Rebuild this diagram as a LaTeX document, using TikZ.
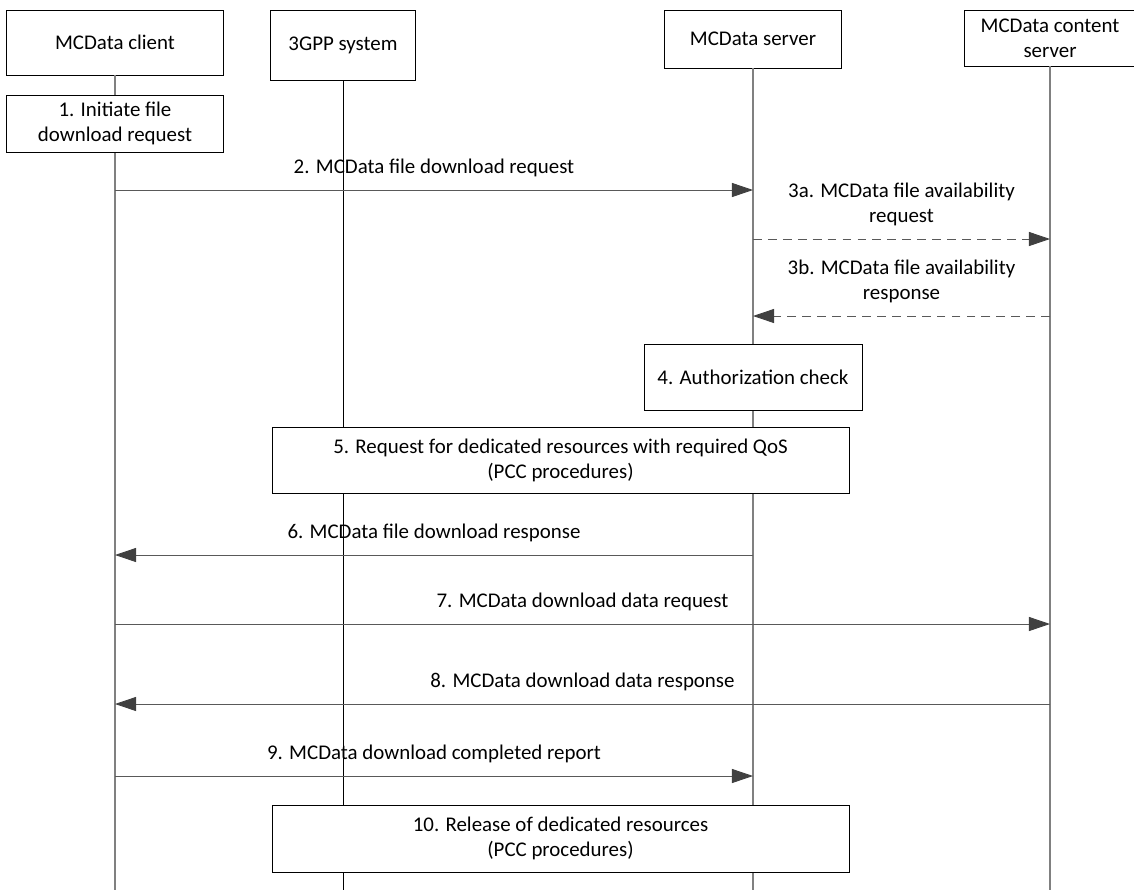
\documentclass[tikz,border=0pt]{standalone}
\usepackage{fontspec}
\setmainfont{Carlito}
\usetikzlibrary{arrows.meta,positioning}

\begin{document}
\begin{tikzpicture}[
    x=0.02cm, y=-0.02cm,
    font=\fontsize{11.9}{14.2}\selectfont,
    box/.style={rectangle, draw, fill=white, align=center, inner sep=1pt},
    life/.style={draw=black!50, line width=0.8pt},
    msg/.style={draw=black!65, line width=0.5pt, -{Triangle[length=12pt, width=8pt, color=black!75]}},
    reply/.style={msg, dash pattern=on 5pt off 3.5pt},
    lbl/.style={midway, above=7pt, inner sep=0pt, align=center}
]
\useasboundingbox (0,0) rectangle (1134,890);

% heads
\node[box, minimum width=4.34cm, minimum height=1.3cm] (client) at (115,42.5) {MCData client};
\node[box, minimum width=2.9cm, minimum height=1.4cm] (tgpp) at (343,45) {3GPP system};
\node[box, minimum width=3.54cm, minimum height=1.16cm] (server) at (753,39) {MCData server};
\node[box, minimum width=3.42cm, minimum height=1.12cm] (content) at (1050,38) {MCData content\\server};

\coordinate (clientEnd) at (115,890);
\coordinate (tgppEnd) at (343,890);
\coordinate (serverEnd) at (753,890);
\coordinate (contentEnd) at (1050,890);

% lifelines
\draw[life] (client) -- (clientEnd);
\draw[black, line width=0.5pt] (tgpp) -- (tgppEnd);
\draw[life] (server) -- (serverEnd);
\draw[life] (content) -- (contentEnd);

% steps
\node[box, minimum width=4.34cm, minimum height=1.14cm] (init) at (115,123.5) {1. Initiate file\\download request};
\node[box, minimum width=4.36cm, minimum height=1.32cm] (auth) at (753,377) {4. Authorization check};
\node[box, minimum width=11.54cm, minimum height=1.32cm] (qos) at (560.5,460) {5. Request for dedicated resources with required QoS\\(PCC procedures)};
\node[box, minimum width=11.54cm, minimum height=1.34cm] (release) at (560.5,838.5) {10. Release of dedicated resources\\(PCC procedures)};

% messages
\coordinate (c2) at (115,190);  \coordinate (s2) at (753,190);
\coordinate (s3a) at (753,239); \coordinate (m3a) at (1050,239);
\coordinate (m3b) at (1050,316); \coordinate (s3b) at (753,316);
\coordinate (s6) at (753,555);  \coordinate (c6) at (115,555);
\coordinate (c7) at (115,624);  \coordinate (m7) at (1050,624);
\coordinate (m8) at (1050,704); \coordinate (c8) at (115,704);
\coordinate (c9) at (115,776);  \coordinate (s9) at (753,776);

\draw[msg] (c2) -- node[lbl] {2. MCData file download request} (s2);
\draw[reply] (s3a) -- node[lbl] {3a. MCData file availability\\request} (m3a);
\draw[reply] (m3b) -- node[lbl] {3b. MCData file availability\\response} (s3b);
\draw[msg] (s6) -- node[lbl] {6. MCData file download response} (c6);
\draw[msg] (c7) -- node[lbl] {7. MCData download data request} (m7);
\draw[msg] (m8) -- node[lbl] {8. MCData download data response} (c8);
\draw[msg] (c9) -- node[lbl] {9. MCData download completed report} (s9);
\end{tikzpicture}
\end{document}
